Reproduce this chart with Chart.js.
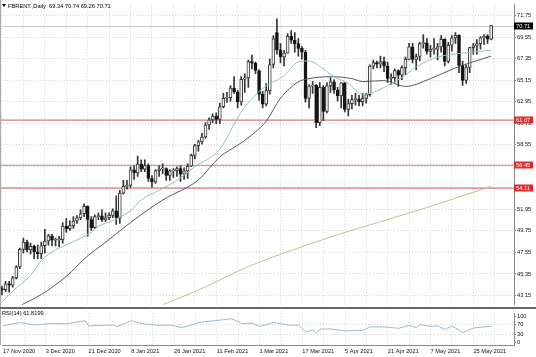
<!DOCTYPE html>
<html><head><meta charset="utf-8">
<script src="https://cdn.jsdelivr.net/npm/chart.js@4/dist/chart.umd.min.js"></script>
<style>
html,body{margin:0;padding:0;background:#fff;}
#wrap{position:relative;width:536px;height:357px;overflow:hidden;background:#fff;}
#c1{position:absolute;left:0;top:0;}
#c2{position:absolute;left:0;top:309px;}
</style></head><body>
<div id="wrap"><canvas id="c1" width="536" height="309"></canvas><canvas id="c2" width="536" height="48"></canvas></div>
<script>
// ---- DATA (bar index 0 = 17 Nov 2020, trading days) ----
const opens = [43.82,43.75,44.34,44.20,44.96,46.06,47.86,48.61,47.80,48.18,47.59,47.42,48.25,48.71,49.25,48.79,48.84,48.86,50.25,49.97,50.29,50.76,51.08,51.50,52.26,50.91,50.08,51.20,51.29,50.86,51.09,51.34,51.80,51.09,53.60,54.30,54.38,55.99,55.66,56.58,56.06,56.42,55.10,54.75,55.90,56.08,56.10,55.41,55.88,55.91,56.11,55.53,55.88,56.35,57.46,58.46,58.84,59.34,60.56,61.09,61.47,61.14,62.43,63.30,63.35,64.34,63.93,62.91,65.24,65.37,67.04,66.88,66.13,63.69,62.70,64.07,66.74,70.00,68.24,67.52,67.90,69.63,69.22,68.88,68.39,68.00,63.28,64.53,64.62,60.79,64.41,61.95,64.57,64.98,64.14,63.54,64.86,62.15,62.74,63.16,63.20,62.95,63.28,63.67,66.58,66.94,66.77,67.05,66.57,65.32,65.40,66.11,65.65,66.42,67.27,68.56,67.25,67.56,68.88,68.96,68.09,68.28,68.32,68.55,69.32,67.05,68.71,69.46,69.71,66.66,65.11,66.44,68.46,68.65,68.87,69.46,69.63,69.34];
const highs = [44.10,44.60,44.60,45.10,46.20,48.00,49.00,48.80,48.50,48.30,48.30,48.60,49.90,49.40,49.40,49.00,49.20,50.60,51.00,50.80,51.20,51.30,51.90,52.50,52.30,51.20,51.40,51.60,51.90,51.60,51.60,52.00,53.30,53.90,54.90,54.90,56.30,56.40,57.40,57.00,57.00,56.60,55.40,56.00,56.40,56.60,56.20,56.00,56.10,56.30,56.40,56.20,56.60,57.60,58.60,59.00,59.70,60.80,61.30,61.70,61.80,62.80,63.80,63.90,64.60,65.50,64.10,65.50,65.80,67.20,67.70,67.00,66.20,64.00,64.80,67.30,69.70,71.40,68.90,68.20,69.90,70.20,70.00,69.40,68.60,68.20,64.70,65.00,64.70,64.90,64.60,64.90,65.40,65.20,64.40,64.90,64.90,63.20,63.60,63.80,63.60,63.80,63.80,66.70,67.20,67.10,67.60,67.50,67.00,65.80,66.30,66.20,66.60,67.50,68.90,68.90,67.80,69.00,69.80,69.40,68.70,69.40,68.90,69.70,69.40,69.00,69.70,70.00,69.80,67.10,66.70,68.50,68.90,69.30,69.60,69.80,69.80,70.74];
const lows = [43.20,43.55,43.50,44.00,44.85,45.90,47.50,47.60,47.40,46.90,46.90,46.90,47.50,48.30,48.20,48.20,48.10,48.50,49.60,49.80,50.00,50.50,50.90,51.20,49.20,49.80,50.00,50.90,50.70,50.70,50.90,51.10,50.40,50.50,53.50,54.00,54.20,55.00,55.30,55.80,55.80,54.80,54.20,54.60,55.30,55.60,54.90,54.90,55.20,55.30,54.80,55.00,55.10,56.30,57.10,57.90,58.60,59.20,60.10,60.80,60.70,60.70,62.30,62.90,63.00,63.80,62.30,62.60,63.90,64.40,66.30,65.80,63.10,62.30,62.50,63.70,66.40,67.80,66.90,66.60,67.90,68.90,68.00,67.60,67.30,62.90,62.30,63.80,60.30,60.50,61.00,61.80,63.90,63.80,63.00,62.30,61.90,61.50,62.20,62.60,62.50,62.50,62.80,63.50,66.30,66.40,66.40,66.00,64.90,64.70,64.90,64.50,65.20,65.70,67.20,66.90,66.20,67.10,68.40,67.80,67.50,67.80,67.20,68.00,66.60,66.90,68.10,68.90,65.90,64.60,64.80,65.90,67.80,67.80,68.30,68.80,68.90,69.26];
const closes = [43.75,44.34,44.20,44.96,46.06,47.86,48.61,47.80,48.18,47.59,47.42,48.25,48.71,49.25,48.79,48.84,48.86,50.25,49.97,50.29,50.76,51.08,51.50,52.26,50.91,50.08,51.20,51.29,50.86,51.09,51.34,51.80,51.09,53.60,54.30,54.38,55.99,55.66,56.58,56.06,56.42,55.10,54.75,55.90,56.08,56.10,55.41,55.88,55.91,56.11,55.53,55.88,56.35,57.46,58.46,58.84,59.34,60.56,61.09,61.47,61.14,62.43,63.30,63.35,64.34,63.93,62.91,65.24,65.37,67.04,66.88,66.13,63.69,62.70,64.07,66.74,69.36,68.24,67.52,67.90,69.63,69.22,68.88,68.39,68.00,63.28,64.53,64.62,60.79,64.41,61.95,64.57,64.98,64.14,63.54,64.86,62.15,62.74,63.16,63.20,62.95,63.28,63.67,66.58,66.94,66.77,67.05,66.57,65.32,65.40,66.11,65.65,66.42,67.27,68.56,67.25,67.56,68.88,68.96,68.09,68.28,68.32,68.55,69.32,67.05,68.71,69.46,69.71,66.66,65.11,66.44,68.46,68.65,68.87,69.46,69.63,69.32,70.71];

// moving averages (bar index, value)
const fastMaDays = [0,4,8,11,15,18,22,25,27,31,36,39,44,49,54,61,66,68,73,79,83,86,90,93,97,101,104,109,112,116,122,129,137];
const fastMaVals = [42.5,43.9,45.2,46.7,47.8,48.3,49.0,49.6,50.2,50.8,51.8,52.9,53.9,54.9,56.3,58.1,61.3,62.4,64.3,65.6,67.0,67.1,66.3,65.5,64.8,63.7,63.9,64.8,65.4,66.5,67.5,67.9,68.2];
const slowMaDays = [5,11,18,24,28,36,45,55,61,66,68,74,78,83,86,92,98,101,107,113,120,127,137];
const slowMaVals = [42.1,43.25,45.1,47.2,48.3,50.6,52.9,54.95,57.3,58.5,59.0,60.96,63.3,64.97,65.3,65.5,65.3,65.0,65.1,64.5,65.3,66.4,67.6];
const longMaDays = [45,55,69,83,97,117,137];
const longMaVals = [42.2,43.7,46.1,48.0,49.7,51.9,54.3];

const rsiDays = [0,5,9,12,14,18,23,24,27,31,32,36,39,42,44,47,50,52,55,57,61,64,66,67,70,72,74,76,80,83,85,87,88,89,92,96,101,103,107,111,114,116,117,120,122,124,126,129,132,137];
const rsiVals = [62.7,75.9,66,70.3,71.3,71.3,82.5,62.7,64.7,66,60.4,82.5,71.3,68,64.7,66,57,62.7,75.9,79,84.6,90,79,71.3,73.6,60.4,68,76,66,65,40,48,35,51,51.5,44,46,59.4,59,54,64.7,57,68,61,63,49.5,63,38,55,61.8];
const rsiLast = '61.8199';

const levelLines = [61.07, 56.45, 54.11];
const priceTicks = [43.15,45.35,47.55,49.75,51.95,54.15,56.35,58.55,60.75,62.95,65.15,67.35,69.55,71.75];
const rsiTicks = [0,30,70,100];
const dateTickDays = [0,12,24,36,48,60,72,84,96,108,120,132];
const dateTickLabels = ['17 Nov 2020','3 Dec 2020','21 Dec 2020','8 Jan 2021','26 Jan 2021','11 Feb 2021','1 Mar 2021','17 Mar 2021','5 Apr 2021','21 Apr 2021','7 May 2021','25 May 2021'];
const symbolName = 'FBRENT.,Daily';

// ---- build ----
const FONT = "'Liberation Sans', Arial, sans-serif";
Chart.defaults.font.family = FONT;
Chart.defaults.font.size = 5.7;
Chart.defaults.color = '#111';
const gridColor = '#d2d2d2';
const gridDash = [1, 2];
const X_MIN = -0.28, X_MAX = 143.4;
const gridDays = [];
for (let d = 0; d <= 138; d += 6) gridDays.push(d);

const toPts = (xs, ys) => xs.map((x, i) => ({x, y: ys[i]}));
const bodies = opens.map((o, i) => ({x: i, y: [o, closes[i]]}));
const wicks = lows.map((l, i) => ({x: i, y: [l, highs[i]]}));
const bodyFill = opens.map((o, i) => closes[i] >= o ? '#f4f4f4' : '#161616');
const bodyEdge = opens.map((o, i) => closes[i] >= o ? '#3a3a3a' : '#161616');
const last = closes.length - 1;

function box(ctx, y, bg, txt) {
  ctx.fillStyle = bg;
  ctx.fillRect(514, Math.round(y) - 3.5, 19, 7);
  ctx.fillStyle = '#fff';
  ctx.font = '5.7px ' + FONT;
  ctx.textBaseline = 'middle';
  ctx.textAlign = 'left';
  ctx.fillText(txt, 516, Math.round(y) + 0.3);
}

const mainOverlay = {
  id: 'mainOverlay',
  beforeDatasetsDraw(chart) {
    const {ctx, chartArea: a, scales: {y}} = chart;
    ctx.save();
    ctx.strokeStyle = '#c8c8c8'; ctx.lineWidth = 1;
    let yy = Math.round(y.getPixelForValue(closes[last])) + 0.5;
    ctx.beginPath(); ctx.moveTo(a.left, yy); ctx.lineTo(a.right, yy); ctx.stroke();
    ctx.strokeStyle = '#d77a7a'; ctx.lineWidth = 1.2;
    levelLines.forEach(v => {
      const p = y.getPixelForValue(v);
      ctx.beginPath(); ctx.moveTo(a.left, p); ctx.lineTo(a.right, p); ctx.stroke();
    });
    ctx.restore();
  },
  afterDraw(chart) {
    const {ctx, scales: {y}} = chart;
    ctx.save();
    levelLines.forEach(v => box(ctx, y.getPixelForValue(v), '#dd2a2a', v.toFixed(2)));
    box(ctx, y.getPixelForValue(closes[last]), '#000000', closes[last].toFixed(2));
    // separator and borders
    ctx.fillStyle = '#666';
    ctx.fillRect(0, 307, 536, 2);
    ctx.fillStyle = '#aaa';
    ctx.fillRect(0, 0, 1, 307);
    // title
    ctx.fillStyle = '#000';
    ctx.beginPath(); ctx.moveTo(2, 4); ctx.lineTo(6, 4); ctx.lineTo(4, 7); ctx.closePath(); ctx.fill();
    ctx.font = '5.7px ' + FONT;
    ctx.textBaseline = 'middle'; ctx.textAlign = 'left';
    ctx.fillText(symbolName + '  ' + [opens[last], highs[last], lows[last], closes[last]].map(v => v.toFixed(2)).join(' '), 8, 6);
    ctx.restore();
  }
};

new Chart(document.getElementById('c1'), {
  type: 'bar',
  data: {datasets: [
    {type: 'line', data: toPts(fastMaDays, fastMaVals), borderColor: '#93c4b6', borderWidth: 1, pointRadius: 0, cubicInterpolationMode: 'monotone', order: 0},
    {type: 'line', data: toPts(slowMaDays, slowMaVals), borderColor: '#57546f', borderWidth: 1, pointRadius: 0, cubicInterpolationMode: 'monotone', order: 0},
    {type: 'line', data: toPts(longMaDays, longMaVals), borderColor: '#cfb993', borderWidth: 1, pointRadius: 0, cubicInterpolationMode: 'monotone', order: 0},
    {type: 'bar', data: wicks, backgroundColor: '#333', barThickness: 1, grouped: false, order: 3},
    {type: 'bar', data: bodies, backgroundColor: bodyFill, borderColor: bodyEdge, borderWidth: 1, borderSkipped: false, barThickness: 3, minBarLength: 1, grouped: false, order: 2}
  ]},
  options: {
    responsive: false, animation: false, events: [],
    layout: {padding: {left: 1, top: 1, right: 0, bottom: 2}},
    plugins: {legend: {display: false}, tooltip: {enabled: false}},
    scales: {
      x: {type: 'linear', min: X_MIN, max: X_MAX, offset: false,
          grid: {offset: false, color: gridColor, drawTicks: false, borderDash: gridDash},
          border: {display: false, dash: gridDash},
          ticks: {display: false},
          afterBuildTicks: s => { s.ticks = gridDays.map(v => ({value: v})); },
          afterFit: s => { s.height = 0; }},
      y: {position: 'right', min: 42.22, max: 72.88,
          afterBuildTicks: s => { s.ticks = priceTicks.map(v => ({value: v})); },
          afterFit: s => { s.width = 22; },
          ticks: {padding: 1, autoSkip: false, callback: v => Number(v).toFixed(2)},
          grid: {color: gridColor, tickLength: 2, tickColor: '#888', borderDash: gridDash},
          border: {display: true, color: '#888', width: 1, dash: gridDash}}
    }
  },
  plugins: [mainOverlay]
});

const rsiOverlay = {
  id: 'rsiOverlay',
  afterDraw(chart) {
    const {ctx} = chart;
    ctx.save();
    ctx.fillStyle = '#aaa';
    ctx.fillRect(0, 0, 1, 36);
    ctx.fillStyle = '#000';
    ctx.font = '5.7px ' + FONT;
    ctx.textBaseline = 'middle'; ctx.textAlign = 'left';
    ctx.fillText('RSI(14) ' + rsiLast, 2, 4.5);
    ctx.restore();
  }
};

new Chart(document.getElementById('c2'), {
  type: 'line',
  data: {datasets: [
    {data: toPts(rsiDays, rsiVals), borderColor: '#9dbad0', borderWidth: 1, pointRadius: 0, tension: 0}
  ]},
  options: {
    responsive: false, animation: false, events: [],
    layout: {padding: {left: 1, top: 0, right: 0, bottom: 0}},
    plugins: {legend: {display: false}, tooltip: {enabled: false}},
    scales: {
      x: {type: 'linear', min: X_MIN, max: X_MAX, offset: false,
          grid: {offset: false, color: gridColor, drawTicks: false, borderDash: gridDash},
          border: {display: true, color: '#888', dash: gridDash},
          ticks: {autoSkip: false, maxRotation: 0, align: 'start', padding: 3,
                  callback: v => { const k = dateTickDays.indexOf(v); return k >= 0 ? dateTickLabels[k] : ''; }},
          afterBuildTicks: s => { s.ticks = gridDays.map(v => ({value: v})); },
          afterFit: s => { s.height = 12; }},
      y: {position: 'right', min: -8.9, max: 109.9,
          afterBuildTicks: s => { s.ticks = rsiTicks.map(v => ({value: v})); },
          afterFit: s => { s.width = 22; },
          ticks: {padding: 1, autoSkip: false, callback: v => String(v)},
          grid: {color: c => (c.tick && (c.tick.value === 30 || c.tick.value === 70)) ? gridColor : 'rgba(0,0,0,0)',
                 tickLength: 2, tickColor: '#888', borderDash: gridDash},
          border: {display: true, color: '#888', width: 1, dash: gridDash}}
    }
  },
  plugins: [rsiOverlay]
});
</script>
</body></html>
